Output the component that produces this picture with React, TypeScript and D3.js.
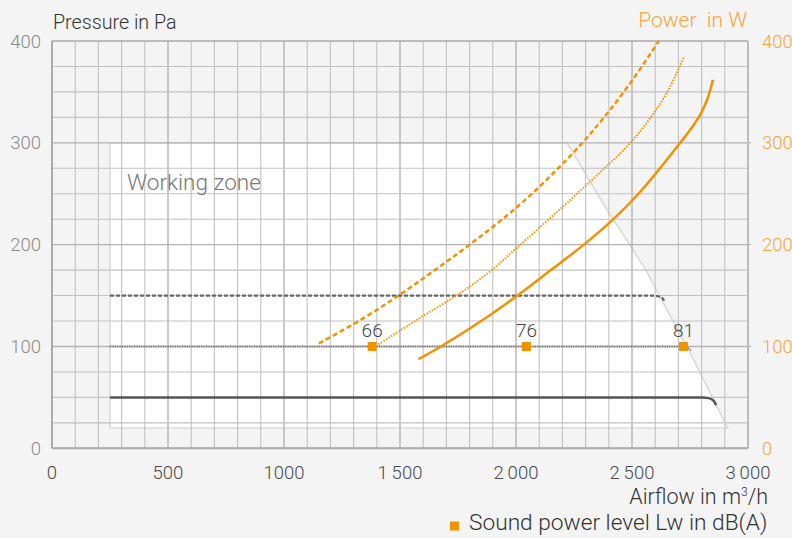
import React from "react";
import * as d3 from "d3";

// ---- data ----
const xTicks = [0, 500, 1000, 1500, 2000, 2500, 3000];
const xTickLabels = ["0", "500", "1000", "1\u2009500", "2\u2009000", "2\u2009500", "3\u2009000"];
const yTicks = [0, 100, 200, 300, 400];

// working zone outline (airflow m3/h, pressure Pa)
const workingZone: [number, number][] = [
  [250, 300], [2220, 300], [2390, 235], [2490, 200], [2560, 175], [2765, 87], [2912, 20], [250, 20],
];

// pressure curves (Pa)
const pressureSolid: [number, number][] = [[250, 50], [2800, 50], [2830, 49.3], [2850, 47], [2863, 42.5]];
const pressureDotted: [number, number][] = [[250, 100], [2705, 100], [2735, 99], [2757, 95.5]];
const pressureDashed: [number, number][] = [[250, 150], [2590, 150], [2615, 149], [2632, 147], [2642, 144]];

// power curves (W)
const powerDashed: [number, number][] = [
  [1150, 103], [1330, 126], [1500, 151], [1650, 175], [1800, 200], [2000, 236], [2160, 270],
  [2290, 301], [2390, 328], [2500, 361], [2616, 400],
];
const powerDotted: [number, number][] = [
  [1407, 102], [1600, 130], [1750, 151], [1890, 174], [2004, 197], [2176, 232], [2334, 265],
  [2485, 298], [2571, 322], [2650, 349], [2725, 385],
];
const powerSolid: [number, number][] = [
  [1580, 87.5], [1680, 100.5], [1850, 125], [2018, 152], [2150, 175], [2298, 201],
  [2420, 225], [2520, 248], [2610, 272], [2708, 300], [2755, 314], [2795, 328], [2825, 343], [2849, 362],
];

// sound power level markers
const soundFlow = [1380, 2045, 2722];
const soundPressure = [100, 100, 100];
const soundLabels = ["66", "76", "81"];

const ORANGE = "#f39200";
const ORANGE_TEXT = "#f5a53c";
const FONT = "Roboto, 'Open Sans', sans-serif";

export default function App() {
  const W = 792, H = 538;
  const x = d3.scaleLinear().domain([0, 3000]).range([52, 748]);
  const y = d3.scaleLinear().domain([0, 400]).range([448.3, 41]);

  const lineFlat = d3.line<[number, number]>().x(d => x(d[0])).y(d => y(d[1])).curve(d3.curveMonotoneX);
  const lineSmooth = d3.line<[number, number]>().x(d => x(d[0])).y(d => y(d[1])).curve(d3.curveCatmullRom.alpha(0.5));
  const poly = d3.line<[number, number]>().x(d => x(d[0])).y(d => y(d[1]));

  const vGrid = d3.range(0, 3001, 100);
  const hGrid = d3.range(0, 401, 25);

  return (
    <svg width={W} height={H} style={{ position: "absolute", left: 0, top: 0 }} fontFamily={FONT}>
      <rect x={0} y={0} width={W} height={H} fill="#f4f4f4" />
      {/* working zone */}
      <path d={poly(workingZone)! + "Z"} fill="#ffffff" stroke="#dadada" strokeWidth={1.6} />
      {/* grid */}
      {vGrid.map(v => (
        <line key={"v" + v} x1={x(v)} x2={x(v)} y1={y(400)} y2={y(0)}
          stroke={v % 500 === 0 ? "#b2b2b2" : "#c2c2c2"} strokeWidth={v % 500 === 0 ? 1.4 : 1.1} />
      ))}
      {hGrid.map(p => (
        <line key={"h" + p} x1={x(0)} x2={x(3000) + (p % 100 === 0 && p > 0 && p < 400 ? 3 : 0)} y1={y(p)} y2={y(p)}
          stroke={p % 100 === 0 ? "#b2b2b2" : "#c2c2c2"} strokeWidth={p % 100 === 0 ? 1.4 : 1.1} />
      ))}
      {/* frame */}
      <line x1={x(0)} x2={x(3000)} y1={y(400)} y2={y(400)} stroke="#bcbcbc" strokeWidth={2} />
      <line x1={x(3000)} x2={x(3000)} y1={y(400)} y2={y(0)} stroke="#bcbcbc" strokeWidth={2} />
      <line x1={x(0)} x2={x(0)} y1={y(400)} y2={y(0)} stroke="#aaaaaa" strokeWidth={2} />
      <line x1={x(0)} x2={x(3000)} y1={y(0)} y2={y(0)} stroke="#aaaaaa" strokeWidth={2} />

      {/* pressure curves */}
      <path d={lineFlat(pressureDashed)!} fill="none" stroke="#666" strokeWidth={2.2} strokeDasharray="4 2" />
      <path d={lineFlat(pressureDotted)!} fill="none" stroke="#777" strokeWidth={2} strokeDasharray="1.2 1.2" />
      <path d={lineFlat(pressureSolid)!} fill="none" stroke="#555" strokeWidth={2.5} />

      {/* power curves */}
      <path d={lineSmooth(powerDashed)!} fill="none" stroke={ORANGE} strokeWidth={2.5} strokeDasharray="5 3" />
      <path d={lineSmooth(powerDotted)!} fill="none" stroke={ORANGE} strokeWidth={2} strokeDasharray="1.5 1.5" />
      <path d={lineSmooth(powerSolid)!} fill="none" stroke={ORANGE} strokeWidth={2.5} />

      {/* sound markers */}
      {soundFlow.map((f, i) => (
        <g key={"s" + i}>
          <rect x={x(f) - 4.5} y={y(soundPressure[i]) - 4.5} width={9} height={9} fill={ORANGE} />
          <text x={x(f)} y={y(soundPressure[i]) - 9.5} textAnchor="middle" fontSize={19} fill="#444" fontWeight={300}>
            {soundLabels[i]}
          </text>
        </g>
      ))}

      <text x={127} y={190} fontSize={22.5} fill="#777" fontWeight={300}>Working zone</text>

      {/* axes labels */}
      {yTicks.map(t => (
        <text key={"yl" + t} x={41} y={y(t)} dy="0.36em" textAnchor="end" fontSize={18.5} fill="#8a8a8a" fontWeight={300}>{t}</text>
      ))}
      {yTicks.map(t => (
        <text key={"yr" + t} x={762} y={y(t)} dy="0.36em" textAnchor="start" fontSize={18.5} fill={ORANGE_TEXT} fontWeight={300}>{t}</text>
      ))}
      {xTicks.map((t, i) => (
        <text key={"xl" + t} x={x(t)} y={479} textAnchor="middle" fontSize={18.5} fill="#4a4a4a" fontWeight={300}>{xTickLabels[i]}</text>
      ))}
      <text x={53} y={29} fontSize={19.7} fill="#333" fontWeight={300}>Pressure in Pa</text>
      <text x={747} y={27} fontSize={21} fill={ORANGE_TEXT} textAnchor="end" fontWeight={300} style={{ whiteSpace: "pre" }}>{"Power  in W"}</text>
      <text x={768} y={504} fontSize={21.5} fill="#333" textAnchor="end" fontWeight={300}>
        Airflow in m<tspan dy={-8} fontSize={12}>3</tspan><tspan dy={8}>/h</tspan>
      </text>
      <rect x={450} y={521.5} width={9} height={9} fill={ORANGE} />
      <text x={469} y={530} fontSize={22.7} fill="#333" fontWeight={300}>Sound power level Lw in dB(A)</text>
    </svg>
  );
}
